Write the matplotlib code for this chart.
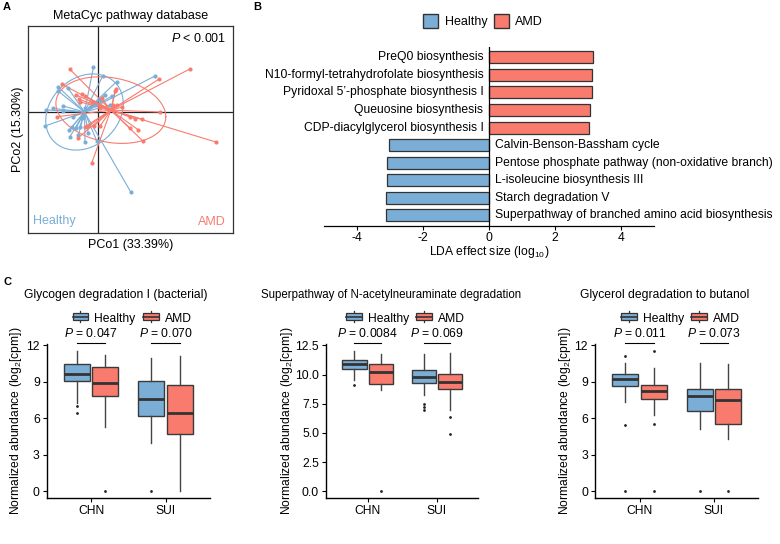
import numpy as np
import matplotlib.pyplot as plt
from matplotlib.patches import Patch, Rectangle
from matplotlib.lines import Line2D
from matplotlib.legend_handler import HandlerBase

plt.rcParams['font.family'] = ['Liberation Sans', 'DejaVu Sans']
plt.rcParams['mathtext.fontset'] = 'custom'
plt.rcParams['mathtext.rm'] = 'Liberation Sans'
plt.rcParams['mathtext.it'] = 'Liberation Sans:italic'
plt.rcParams['axes.unicode_minus'] = False

BLUE = '#7AAED6'
RED = '#F97B6E'
EDGE = '#333333'
FS = 8.7

# ---- panel A: PCoA scores ----
healthy_pco1 = [-0.014, 0.017, 0.063, 0.191, -0.131, -0.133, -0.098, 0.024, 0.008, 0.041,
                -0.114, -0.148, -0.172, -0.117, -0.042, -0.176, -0.081, -0.053, -0.087, -0.072,
                -0.059, -0.094, -0.092, -0.064, -0.042, -0.003, -0.031, 0.111, -0.026, 0.047, -0.009]
healthy_pco2 = [0.149, 0.120, 0.101, 0.120, 0.084, 0.071, 0.079, 0.057, 0.040, 0.023,
                0.020, 0.012, 0.007, 0.004, 0.012, -0.047, -0.016, -0.021, -0.051, -0.054,
                -0.049, -0.060, -0.082, -0.077, -0.099, -0.096, -0.071, -0.268, 0.016, 0.053, 0.023]
amd_pco1 = [-0.092, 0.308, 0.206, -0.120, -0.072, -0.053, -0.042, -0.061, -0.059, -0.020,
            0.013, 0.061, 0.052, 0.063, 0.047, 0.080, 0.208, -0.137, 0.108, 0.149,
            0.108, 0.136, 0.150, -0.031, 0.008, -0.012, -0.042, -0.067, -0.020, 0.394,
            0.058, 0.124, 0.008]
amd_pco2 = [0.142, 0.144, 0.111, 0.093, 0.057, 0.060, 0.053, 0.042, 0.034, 0.034,
            0.046, 0.077, 0.023, 0.023, 0.012, 0.016, 0.000, -0.016, -0.016, -0.024,
            -0.054, -0.060, -0.096, -0.047, -0.047, -0.047, -0.049, -0.088, -0.171, -0.100,
            0.070, -0.022, 0.012]
ellipse_level = 0.83

# ---- panel B: LEfSe ----
lda_pathways = ["PreQ0 biosynthesis",
                "N10-formyl-tetrahydrofolate biosynthesis",
                "Pyridoxal 5\u2019-phosphate biosynthesis I",
                "Queuosine biosynthesis",
                "CDP-diacylglycerol biosynthesis I",
                "Calvin-Benson-Bassham cycle",
                "Pentose phosphate pathway (non-oxidative branch)",
                "L-isoleucine biosynthesis III",
                "Starch degradation V",
                "Superpathway of branched amino acid biosynthesis"]
lda_scores = [3.14, 3.11, 3.11, 3.06, 3.03, -3.03, -3.08, -3.08, -3.11, -3.12]

# ---- panel C: boxplots (order: CHN-Healthy, CHN-AMD, SUI-Healthy, SUI-AMD) ----
box_titles = ["Glycogen degradation I (bacterial)",
              "Superpathway of N-acetylneuraminate degradation",
              "Glycerol degradation to butanol"]
box_pvalues = [["0.047", "0.070"], ["0.0084", "0.069"], ["0.011", "0.073"]]
cohorts = ["CHN", "SUI"]

glycogen_whislo = [7.3, 5.3, 4.0, 0.0]
glycogen_q1 = [9.11, 7.84, 6.19, 4.71]
glycogen_med = [9.63, 8.95, 7.57, 6.47]
glycogen_q3 = [10.46, 10.21, 9.08, 8.75]
glycogen_whishi = [11.56, 11.23, 11.01, 11.15]
glycogen_fliers = [[7.0, 6.41], [0.0], [0.0], []]

neu_whislo = [9.55, 8.69, 8.26, 6.97]
neu_q1 = [10.46, 9.17, 9.26, 8.74]
neu_med = [10.89, 10.26, 9.83, 9.40]
neu_q3 = [11.27, 10.89, 10.41, 10.06]
neu_whishi = [12.04, 11.78, 11.75, 11.84]
neu_fliers = [[9.12], [0.0], [7.45, 7.25, 6.97], [6.39, 4.90]]

glycerol_whislo = [7.34, 6.25, 5.15, 4.33]
glycerol_q1 = [8.63, 7.56, 6.58, 5.56]
glycerol_med = [9.18, 8.22, 7.81, 7.53]
glycerol_q3 = [9.59, 8.71, 8.36, 8.36]
glycerol_whishi = [10.49, 10.14, 10.55, 10.44]
glycerol_fliers = [[11.10, 5.48, 0.0], [11.53, 5.51, 0.0], [0.0], [0.0]]


def cov_trob(x, nu=5, maxit=25, tol=0.01):
    # multivariate t robust covariance, as MASS::cov.trob
    n, p = x.shape
    loc = x.mean(axis=0)
    w = np.ones(n)
    for _ in range(maxit):
        w0 = w
        X = x - loc
        sw = np.sqrt(w / w.sum())
        _, d, vt = np.linalg.svd(sw[:, None] * X, full_matrices=False)
        wX = X @ vt.T @ np.diag(1 / d)
        Q = (wX ** 2).sum(axis=1)
        w = (nu + p) / (nu + Q)
        loc = (w[:, None] * x).sum(axis=0) / w.sum()
        if np.all(np.abs(w - w0) < tol):
            break
    cov = (np.sqrt(w)[:, None] * X).T @ (np.sqrt(w)[:, None] * X) / n
    return loc, cov


fig = plt.figure(figsize=(7.8, 5.44), dpi=100)

# ================= A =================
axA = fig.add_axes([0.0359, 0.5726, 0.2628, 0.3796])
axA.axhline(0, color='#222222', lw=0.9, zorder=1)
axA.axvline(0, color='#222222', lw=0.9, zorder=1)
theta = np.linspace(0, 2 * np.pi, 100)
circle = np.column_stack([np.cos(theta), np.sin(theta)])
for px, py, col in [(healthy_pco1, healthy_pco2, BLUE), (amd_pco1, amd_pco2, RED)]:
    pts = np.column_stack([px, py])
    centroid = pts.mean(axis=0)
    for x, y in pts:
        axA.plot([centroid[0], x], [centroid[1], y], color=col, lw=0.8, zorder=2)
    axA.scatter(pts[:, 0], pts[:, 1], s=9, color=col, zorder=3, linewidths=0)
    _, shape = cov_trob(pts)
    d2 = len(pts) - 1
    fq = (d2 / 2) * ((1 - ellipse_level) ** (-2 / d2) - 1)
    radius = np.sqrt(2 * fq)
    ell = centroid + radius * circle @ np.linalg.cholesky(shape).T
    axA.plot(ell[:, 0], ell[:, 1], color=col, lw=0.8, zorder=2)
axA.set_xlim(-0.232, 0.451)
axA.set_ylim(-0.402, 0.287)
axA.set_xticks([])
axA.set_yticks([])
for s in axA.spines.values():
    s.set_color('#333333')
    s.set_linewidth(0.9)
axA.set_xlabel("PCo1 (33.39%)", fontsize=9, labelpad=5)
axA.set_ylabel("PCo2 (15.30%)", fontsize=9, labelpad=3)
axA.set_title("MetaCyc pathway database", fontsize=9, pad=5)
axA.text(0.969, 0.94, "$P$ < 0.001", transform=axA.transAxes, ha='right', va='center', fontsize=9)
axA.text(0.026, 0.057, "Healthy", transform=axA.transAxes, ha='left', va='center', fontsize=9, color=BLUE)
axA.text(0.964, 0.052, "AMD", transform=axA.transAxes, ha='right', va='center', fontsize=9, color=RED)

# ================= B =================
axB = fig.add_axes([0.4154, 0.5846, 0.4231, 0.3296])
ypos = np.arange(len(lda_scores))
cols = [RED if v > 0 else BLUE for v in lda_scores]
axB.barh(ypos, lda_scores, height=0.68, color=cols, edgecolor=EDGE, linewidth=0.9, zorder=2)
axB.axvline(0, color='black', lw=0.9, zorder=3)
for y, v, name in zip(ypos, lda_scores, lda_pathways):
    if v > 0:
        axB.text(-0.17, y, name, ha='right', va='center', fontsize=FS)
    else:
        axB.text(0.18, y, name, ha='left', va='center', fontsize=FS)
axB.set_xlim(-5, 5)
axB.set_ylim(len(lda_scores) - 0.4, -0.6)
axB.set_yticks([])
axB.set_xticks([-4, -2, 0, 2, 4])
axB.tick_params(axis='x', length=3, width=0.8, labelsize=FS, pad=1)
for s in ['top', 'right', 'left']:
    axB.spines[s].set_visible(False)
axB.spines['bottom'].set_linewidth(0.9)
axB.set_xlabel("LDA effect size (log$_{10}$)", fontsize=FS, labelpad=0)
fig.legend([Patch(facecolor=BLUE, edgecolor=EDGE), Patch(facecolor=RED, edgecolor=EDGE)],
           ["Healthy", "AMD"], loc='center', bbox_to_anchor=(483 / 780, 1 - 21 / 544), ncol=2,
           frameon=False, handlelength=1.25, handleheight=1.3, columnspacing=0.5,
           handletextpad=0.5, fontsize=9)


# ================= C =================
class BoxKey(HandlerBase):
    def create_artists(self, legend, orig, xd, yd, w, h, fontsize, trans):
        vline = Line2D([xd + w / 2, xd + w / 2], [yd - 0.1 * h, yd + 1.1 * h], color=EDGE, lw=0.9,
                       transform=trans)
        rect = Rectangle((xd, yd + 0.1 * h), w, 0.8 * h, facecolor=orig.get_facecolor(),
                         edgecolor=EDGE, lw=0.9, transform=trans)
        line = Line2D([xd, xd + w], [yd + h / 2, yd + h / 2], color=EDGE, lw=1.2, transform=trans)
        return [vline, rect, line]


panels = [
    (glycogen_whislo, glycogen_q1, glycogen_med, glycogen_q3, glycogen_whishi, glycogen_fliers),
    (neu_whislo, neu_q1, neu_med, neu_q3, neu_whishi, neu_fliers),
    (glycerol_whislo, glycerol_q1, glycerol_med, glycerol_q3, glycerol_whishi, glycerol_fliers),
]
c_rects = [[0.0599, 0.084, 0.2094, 0.284], [0.418, 0.084, 0.1953, 0.284], [0.7628, 0.084, 0.2094, 0.284]]
c_ticks = [[0, 3, 6, 9, 12], [0, 2.5, 5, 7.5, 10, 12.5], [0, 3, 6, 9, 12]]
c_labx = [-0.139, -0.204, -0.132]
c_title_fs = [FS, 8.3, FS]
off = 0.19
positions = [1 - off, 1 + off, 2 - off, 2 + off]

for i, (wlo, q1, med, q3, whi, fl) in enumerate(panels):
    ax = fig.add_axes(c_rects[i])
    stats = [dict(whislo=wlo[k], q1=q1[k], med=med[k], q3=q3[k], whishi=whi[k], fliers=fl[k])
             for k in range(4)]
    bp = ax.bxp(stats, positions=positions, widths=0.35, patch_artist=True, showcaps=False,
                boxprops=dict(edgecolor='#3a3a3a', linewidth=1.0),
                medianprops=dict(color='#333333', linewidth=2.0),
                whiskerprops=dict(color='#444444', linewidth=1.0),
                flierprops=dict(marker='o', markersize=2, markerfacecolor='#222222',
                                markeredgecolor='none'))
    for k, b in enumerate(bp['boxes']):
        b.set_facecolor(BLUE if k % 2 == 0 else RED)
    allv = wlo + whi + [v for f in fl for v in f]
    lo, hi = min(allv), max(allv)
    pad = 0.05 * (hi - lo)
    ax.set_ylim(lo - pad, hi + pad)
    ax.set_xlim(0.4, 2.6)
    ax.set_xticks([1, 2])
    ax.set_xticklabels(cohorts)
    ax.set_yticks(c_ticks[i])
    if i == 1:
        ax.set_yticklabels([f"{t:.1f}" for t in c_ticks[i]])
    ax.tick_params(length=3, width=0.8, labelsize=FS, pad=2, colors='black')
    for s in ['top', 'right']:
        ax.spines[s].set_visible(False)
    for s in ['left', 'bottom']:
        ax.spines[s].set_linewidth(1.0)
    ax.set_ylabel("Normalized abundance (log$_2$[cpm])", fontsize=FS)
    ax.yaxis.set_label_coords(c_labx[i], 0.5)
    tr = ax.get_xaxis_transform()
    for j, x in enumerate([1, 2]):
        ax.plot([x - off, x + off], [1.005, 1.005], color='black', lw=0.8, transform=tr, clip_on=False)
        ax.text(x, 1.066, f"$P$ = {box_pvalues[i][j]}", transform=tr, ha='center', va='center',
                fontsize=FS)
    ax.legend([Patch(facecolor=BLUE), Patch(facecolor=RED)], ["Healthy", "AMD"],
              handler_map={Patch: BoxKey()}, loc='center', bbox_to_anchor=(0.523, 1.163), ncol=2,
              frameon=False, handlelength=1.3, handleheight=0.8, columnspacing=0.6,
              handletextpad=0.5, fontsize=FS, borderaxespad=0)
    ax.text(0.425, 1.313, box_titles[i], transform=ax.transAxes, ha='center', va='center',
            fontsize=c_title_fs[i])

fig.text(0.004, 0.997, "A", weight='bold', fontsize=8, va='top', ha='left')
fig.text(253 / 780, 0.997, "B", weight='bold', fontsize=8, va='top', ha='left')
fig.text(0.004, 1 - 277 / 544, "C", weight='bold', fontsize=8, va='top', ha='left')

fig.savefig("out.png", dpi=100)
